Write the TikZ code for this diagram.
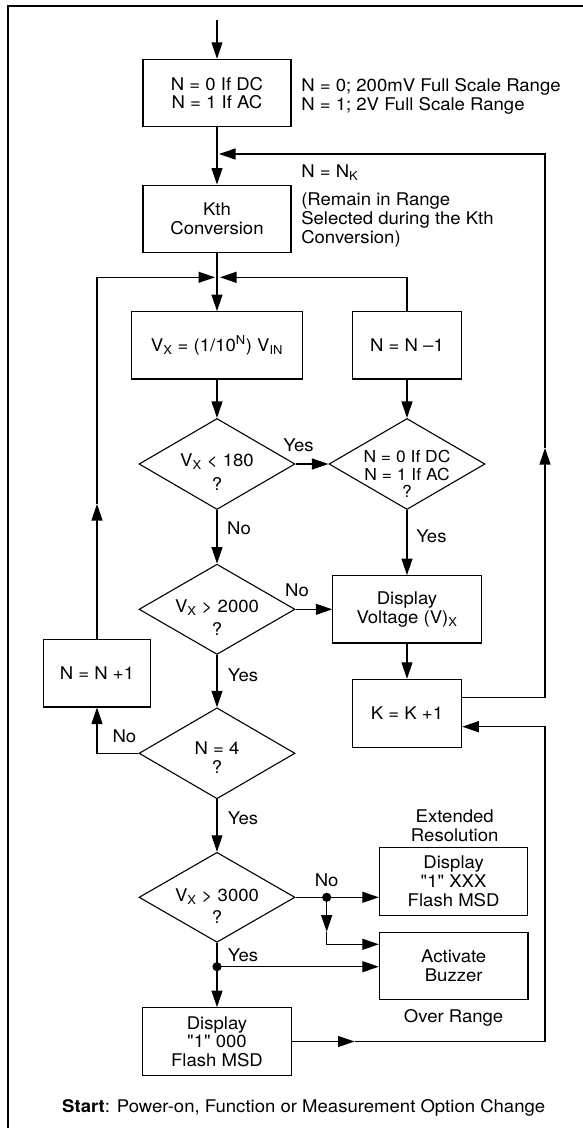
\documentclass[tikz,border=0pt]{standalone}
\usepackage{fontspec}
\setmainfont{TeX Gyre Heros}[FakeStretch=1.06]
\font\qfont="TeX Gyre Heros:extend=1.06" at 17.5pt
\newcommand{\sq}{{\qfont"}}
\usetikzlibrary{arrows.meta,shapes.geometric}
\begin{document}
\begin{tikzpicture}[x=1pt,y=-1pt,
  font=\fontsize{17.5pt}{18.7pt}\selectfont,
  line width=1.1pt,
  arr/.style={-{Triangle[length=16.5pt,width=11pt]}},
  box/.style={draw, inner sep=0pt, align=center},
  dia/.style={draw, diamond, inner sep=0pt, minimum width=156pt, minimum height=91pt},
  lbl/.style={inner sep=0pt, align=center},
  side/.style={inner sep=0pt, align=left, anchor=west},
  frame/.style={line width=2.4pt}]
\useasboundingbox (0,0) rectangle (582,1128);
% frame
\coordinate (fbl) at (8,1130);
\coordinate (ftl) at (8,6.2);
\coordinate (ftr) at (584,6.2);
\draw[frame] (fbl) -- (ftl) -- (ftr);

% boxes
\node[box, minimum width=148pt, minimum height=67.4pt] (b1) at (217,93) {N = 0 If DC\\N = 1 If AC};
\node[box, minimum width=148pt, minimum height=67.3pt] (kth) at (217,218.7) {Kth\\Conversion};
\node[box, minimum width=170.4pt, minimum height=67.3pt] (vx) at (217,345.3) {V\textsubscript{X} = (1/10\textsuperscript{N}) V\textsubscript{IN}};
\node[box, minimum width=109.5pt, minimum height=67.3pt] (nm1) at (407,345.3) {N = N \textendash1};
\node[dia] (d1) at (217,464) {};
\node[dia] (d2) at (407,464) {};
\node[dia, minimum height=90.3pt] (d3) at (217,609.3) {};
\node[box, minimum width=148.4pt, minimum height=67.3pt] (disp) at (407,609.3) {Display\\Voltage (V)\textsubscript{X}};
\node[box, minimum width=109.4pt, minimum height=68pt] (kbox) at (407,713.3) {K = K +1};
\node[box, minimum width=107.3pt, minimum height=67.3pt] (np1) at (97,673.3) {N = N +1};
\node[dia] (d4) at (217,753.3) {};
\node[dia, minimum height=90pt] (d5) at (217,897.3) {};
\node[box, minimum width=148.4pt, minimum height=68pt] (ext) at (453.6,881.3) {Display\\\sq1\sq{} XXX\\Flash MSD};
\node[box, minimum width=148.6pt, minimum height=67.4pt] (buzz) at (453.7,966) {Activate\\Buzzer};
\node[box, minimum width=148.4pt, minimum height=67.6pt] (b1000) at (217,1041.5) {Display\\\sq1\sq{} 000\\Flash MSD};

% diamond texts
\node[lbl] (t1) at (217,472) {V\textsubscript{X} < 180\\[5.3pt]?};
\node[lbl, font=\fontsize{16.5pt}{17.8pt}\selectfont] (t2) at (407,474) {N = 0 If DC\\N = 1 If AC\\?};
\node[lbl] (t3) at (217,617.7) {V\textsubscript{X} > 2000\\[3.9pt]?};
\node[lbl] (t4) at (217,757.3) {N = 4\\?};
\node[lbl] (t5) at (217,905.9) {V\textsubscript{X} > 3000\\[3.6pt]?};

% side texts
\node[side] (s1) at (300.7,96.5) {N = 0; 200mV Full Scale Range\\N = 1; 2V Full Scale Range};
\node[side] (s2) at (300.7,172.2) {N = N\textsubscript{K}};
\node[side, font=\fontsize{17.5pt}{19pt}\selectfont] (s3) at (300.7,219.6) {(Remain in Range\\Selected during the Kth\\Conversion)};

% branch labels
\node[lbl] (y1) at (298.5,445.7) {Yes};
\node[lbl] (n1) at (239,528.3) {No};
\node[lbl] (y2) at (431.4,536.7) {Yes};
\node[lbl] (n2) at (297,590.7) {No};
\node[lbl] (y3) at (243,675) {Yes};
\node[lbl] (n3) at (124.4,736.7) {No};
\node[lbl] (y4) at (243,818.3) {Yes};
\node[lbl] (er) at (454.7,825.5) {Extended\\Resolution};
\node[lbl] (n4) at (326.7,880.7) {No};
\node[lbl] (y5) at (243,955.7) {Yes};
\node[lbl] (ov) at (453.6,1017.5) {Over Range};
\node[lbl] (st) at (303.7,1108.2) {\textbf{Start}: Power-on, Function or Measurement Option Change};

% coordinates
\coordinate (start) at (217,20);
\coordinate (mergeL) at (215,277.3);
\coordinate (mergeR) at (220,277.3);
\coordinate (ltop) at (97,277.3);
\coordinate (lmid) at (97,504);
\coordinate (rtopN) at (407,277.3);
\coordinate (kout) at (462,697.3);
\coordinate (rbot) at (545,697.3);
\coordinate (rmid) at (545,448);
\coordinate (rtop) at (545,154);
\coordinate (kin) at (219,154);
\coordinate (dot1) at (326.7,897.3);
\coordinate (dmid) at (326.7,931.7);
\coordinate (buzzy) at (326.7,944.3);
\coordinate (dot2) at (217,966.7);
\coordinate (bmid) at (354.5,1041.5);
\coordinate (bbr) at (545,1041.5);
\coordinate (bkr) at (545,726.7);

% connectors
\draw[arr] (start) -- (b1);
\draw[arr] (b1) -- (kth);
\draw[arr] (kth) -- (vx);
\draw[arr] (np1.north) -- (lmid);
\draw[arr] (lmid) -- (ltop) -- (mergeL);
\draw[arr] (nm1.north) -- (rtopN) -- (mergeR);
\draw[arr] (vx) -- (d1);
\draw[arr] (d1) -- (d2);
\draw[arr] (nm1) -- (d2);
\draw[arr] (d1) -- (d3);
\draw[arr] (d2) -- (disp);
\draw[arr] (d3) -- (disp);
\draw[arr] (disp) -- (kbox);
\draw[arr] (d3) -- (d4);
\draw[arr] (d4.west) -| (np1.south);
\draw[arr] (d4) -- (d5);
\draw[arr] (d5.east) -- (ext.west |- dot1);
\draw[arr] (dot1) -- (dmid);
\draw[arr] (dmid) -- (buzzy) -- (buzz.west |- buzzy);
\draw[arr] (d5) -- (b1000);
\draw[arr] (dot2) -- (buzz.west |- dot2);
\fill (dot1) circle (4.6pt);
\fill (dot2) circle (4.6pt);
\draw[arr] (b1000.east) -- (bmid);
\draw[arr] (bmid) -- (bbr) -- (bkr) -- (kbox.east |- bkr);
\draw[arr] (kout) -- (rbot) -- (rmid);
\draw[arr] (rmid) -- (rtop) -- (kin);
\end{tikzpicture}
\end{document}
